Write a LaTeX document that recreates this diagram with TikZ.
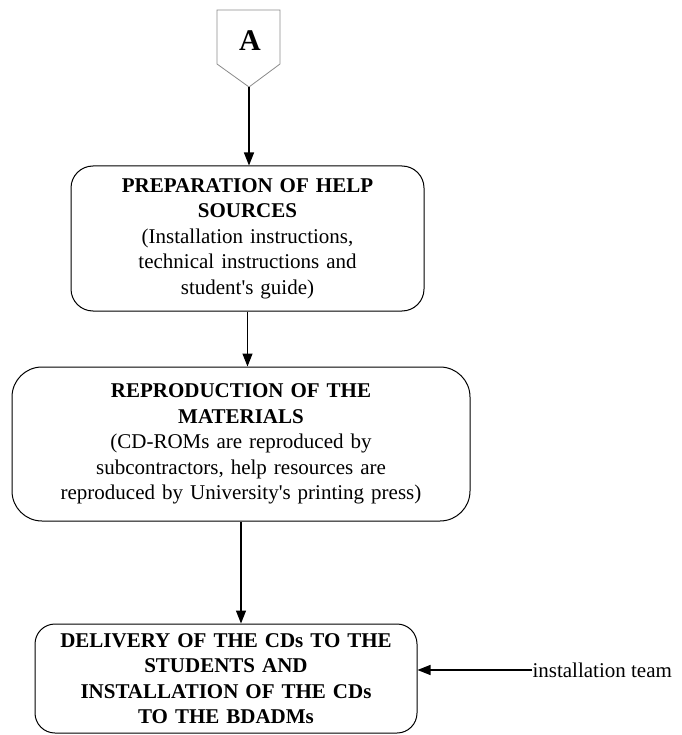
\documentclass[tikz,border=0pt]{standalone}
\usepackage{fontspec}
\setmainfont{Liberation Serif}
\usetikzlibrary{arrows.meta, calc, positioning}
\definecolor{rand}{HTML}{8A8A8A}

\begin{document}
\begin{tikzpicture}[x=1pt, y=-1pt, line width=1pt,
    every node/.style={font=\fontsize{21}{25.5}\selectfont},
    stage/.style={draw, align=center, inner sep=0pt},
    pfeil/.style={-{Triangle[length=13pt, width=10pt]}, line width=1.2pt}]
  \useasboundingbox (0,0) rectangle (681,735);
  % connector A
  \node[font=\fontsize{30}{30}\selectfont\bfseries] (A) at (250,41) {A};
  \draw[rand, line width=0.8pt] (217,10) -- (280,10) -- (280,64)
    -- (249,87) coordinate (Aspitze) -- (217,64) -- cycle;
  % stages
  \node[stage, rounded corners=22pt, text width=353pt, minimum height=145pt]
    (hilfe) at (247.5,238.5)
    {\textbf{PREPARATION OF HELP}\\\textbf{SOURCES}\\(Installation instructions,\\
     technical instructions and\\student\textquotesingle s guide)};
  \node[stage, rounded corners=30pt, text width=458pt, minimum height=154pt]
    (kopie) at (241,444)
    {\textbf{REPRODUCTION OF THE}\\\textbf{MATERIALS}\\(CD-ROMs are reproduced by\\
     subcontractors, help resources are\\
     reproduced by University\textquotesingle s printing press)};
  \node[stage, rounded corners=20pt, text width=382pt, minimum height=109pt]
    (liefer) at (226,678.5)
    {\textbf{DELIVERY OF THE CDs TO THE}\\\textbf{STUDENTS AND}\\
     \textbf{INSTALLATION OF THE CDs}\\\textbf{TO THE BDADMs}};
  \node[anchor=west, inner sep=0pt] (team) at (532,670) {installation team};
  % arrows
  \draw[pfeil] (Aspitze) -- (Aspitze |- hilfe.north);
  \draw[pfeil] (hilfe.south) -- (hilfe.south |- kopie.north);
  \draw[pfeil] (kopie.south) -- (kopie.south |- liefer.north);
  \draw[pfeil] (team.west) -- (team.west -| liefer.east);
\end{tikzpicture}
\end{document}
